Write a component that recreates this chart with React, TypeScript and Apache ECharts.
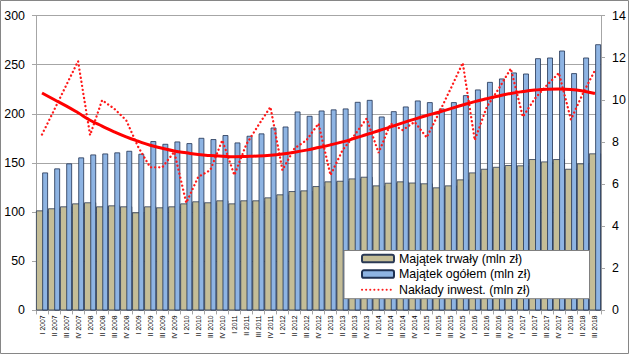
import React, { useEffect, useRef } from "react";
import * as echarts from "echarts";

const categories = [
  "I 2007", "II 2007", "III 2007", "IV 2007",
  "I 2008", "II 2008", "III 2008", "IV 2008",
  "I 2009", "II 2009", "III 2009", "IV 2009",
  "I 2010", "II 2010", "III 2010", "IV 2010",
  "I 2011", "II 2011", "III 2011", "IV 2011",
  "I 2012", "II 2012", "III 2012", "IV 2012",
  "I 2013", "II 2013", "III 2013", "IV 2013",
  "I 2014", "II 2014", "III 2014", "IV 2014",
  "I 2015", "II 2015", "III 2015", "IV 2015",
  "I 2016", "II 2016", "III 2016", "IV 2016",
  "I 2017", "II 2017", "III 2017", "IV 2017",
  "I 2018", "II 2018", "III 2018",
];

const majatekTrwaly = [
  101.7, 103.8, 105.8, 108.8, 109.9, 105.8, 106.8, 105.8,
  99.7, 105.8, 104.8, 105.8, 108.8, 110.9, 109.9, 111.9,
  108.8, 111.9, 111.9, 114.9, 118.0, 121.3, 122.0, 126.4,
  131.2, 131.8, 134.2, 135.9, 127.1, 129.8, 131.2, 130.0,
  129.2, 125.1, 127.1, 133.2, 140.3, 144.0, 146.0, 147.8,
  147.5, 153.9, 151.5, 153.9, 144.0, 149.5, 159.7,
];

const majatekOgolem = [
  140.3, 144.4, 149.5, 155.6, 158.6, 159.6, 160.7, 162.3,
  159.3, 172.2, 169.4, 171.8, 170.1, 175.5, 174.2, 178.3,
  170.8, 177.6, 180.0, 186.0, 187.0, 202.3, 197.9, 203.3,
  204.4, 205.4, 212.1, 214.1, 197.2, 202.6, 207.4, 213.5,
  211.8, 205.4, 211.8, 218.9, 224.7, 232.4, 235.9, 242.0,
  240.9, 256.5, 257.2, 264.3, 241.3, 257.2, 270.7,
];

const naklady = [
  8.35, 9.5, 10.67, 11.83, 8.32, 9.98, 9.58, 9.03,
  7.76, 6.79, 6.79, 7.53, 5.11, 6.34, 6.66, 8.08,
  6.42, 7.89, 8.79, 9.66, 6.66, 7.69, 8.08, 8.87,
  6.42, 7.61, 8.32, 9.11, 7.48, 8.87, 8.56, 8.95,
  8.21, 9.35, 10.53, 11.75, 8.08, 9.66, 10.53, 11.48,
  9.19, 10.06, 10.69, 11.27, 9.06, 10.3, 11.4,
];

const trend = [
  10.32, 10.01, 9.71, 9.38, 9.03, 8.75, 8.48, 8.24,
  8.03, 7.84, 7.70, 7.57, 7.48, 7.40, 7.35, 7.32,
  7.30, 7.31, 7.33, 7.37, 7.43, 7.51, 7.61, 7.73,
  7.86, 8.00, 8.17, 8.35, 8.53, 8.71, 8.90, 9.08,
  9.25, 9.41, 9.58, 9.75, 9.91, 10.05, 10.18, 10.30,
  10.39, 10.46, 10.50, 10.51, 10.49, 10.42, 10.30,
];

const leftTicks = { min: 0, max: 300, interval: 50 };
const rightTicks = { min: 0, max: 14, interval: 2 };

const FONT = "'Liberation Sans', Arial, sans-serif";
const AXIS_GRAY = "#a6a6a6";
const DOT_RED = "#ff1a1a";

export default function App() {
  const ref = useRef<HTMLDivElement>(null);

  useEffect(() => {
    if (!ref.current) return;
    const chart = echarts.init(ref.current, undefined, { renderer: "svg" });
    const option: any = {
      animation: false,
      backgroundColor: "#ffffff",
      textStyle: { fontFamily: FONT },
      grid: { left: 36, right: 28, top: 15.5, bottom: 43.6 },
      graphic: [
        {
          type: "rect",
          silent: true,
          z: 100,
          shape: { x: 0.5, y: 0.5, width: 628, height: 353 },
          style: { fill: "none", stroke: "#868686", lineWidth: 1 },
        },
      ],
      legend: {
        orient: "vertical",
        left: 344,
        top: 250.5,
        padding: [1, 59, 2, 17],
        itemGap: 1.6,
        itemWidth: 32,
        itemHeight: 7.5,
        backgroundColor: "#ffffff",
        borderColor: "#7f7f7f",
        borderWidth: 1,
        borderRadius: 0,
        textStyle: { fontSize: 12.4, color: "#000", fontFamily: FONT, lineHeight: 14 },
        data: [
          { name: "Majątek trwały (mln zł)" },
          { name: "Majątek ogółem (mln zł)" },
          { name: "Nakłady inwest. (mln zł)", itemStyle: { opacity: 0 } },
        ],
      },
      xAxis: {
        type: "category",
        data: categories,
        boundaryGap: true,
        axisLine: { show: true, lineStyle: { color: AXIS_GRAY } },
        axisTick: { show: true, length: 4, lineStyle: { color: AXIS_GRAY } },
        axisLabel: { rotate: 90, interval: 0, fontSize: 6.8, color: "#000", margin: 5, fontFamily: FONT },
        splitLine: { show: false },
      },
      yAxis: [
        {
          type: "value",
          position: "left",
          ...leftTicks,
          axisLine: { show: true, lineStyle: { color: AXIS_GRAY } },
          axisTick: { show: true, length: 4, lineStyle: { color: AXIS_GRAY } },
          axisLabel: { fontSize: 12.4, color: "#000", margin: 11, fontFamily: FONT },
          splitLine: { show: true, lineStyle: { color: AXIS_GRAY, width: 1 } },
        },
        {
          type: "value",
          position: "right",
          ...rightTicks,
          axisLine: { show: true, lineStyle: { color: AXIS_GRAY } },
          axisTick: { show: true, length: 4, lineStyle: { color: AXIS_GRAY } },
          axisLabel: { fontSize: 12.4, color: "#000", margin: 11, fontFamily: FONT },
          splitLine: { show: false },
        },
      ],
      series: [
        {
          name: "Majątek trwały (mln zł)",
          type: "bar",
          data: majatekTrwaly,
          barWidth: "100%",
          barGap: "-48%",
          itemStyle: { color: "#c4bd97", borderColor: "#2b3a55", borderWidth: 0.8 },
        },
        {
          name: "Majątek ogółem (mln zł)",
          type: "bar",
          data: majatekOgolem,
          barWidth: "48%",
          barGap: "-48%",
          itemStyle: { color: "#8eb4e3", borderColor: "#1f3152", borderWidth: 0.8 },
        },
        {
          name: "Nakłady inwest. (mln zł)",
          type: "line",
          yAxisIndex: 1,
          data: naklady,
          symbol: "none",
          lineStyle: { color: DOT_RED, width: 2.3, type: [0.1, 4], cap: "round" },
          itemStyle: { color: "rgba(255,26,26,0)", borderWidth: 0 },
        },
        {
          name: "Trend",
          type: "line",
          yAxisIndex: 1,
          data: trend,
          symbol: "none",
          smooth: true,
          lineStyle: { color: "#ff0000", width: 3 },
          itemStyle: { color: "#ff0000" },
          z: 3,
        },
      ],
    };
    chart.setOption(option);
    return () => chart.dispose();
  }, []);

  return (
    <div
      ref={ref}
      style={{ position: "fixed", left: 0, top: 0, width: 629, height: 354, background: "#fff" }}
    />
  );
}
